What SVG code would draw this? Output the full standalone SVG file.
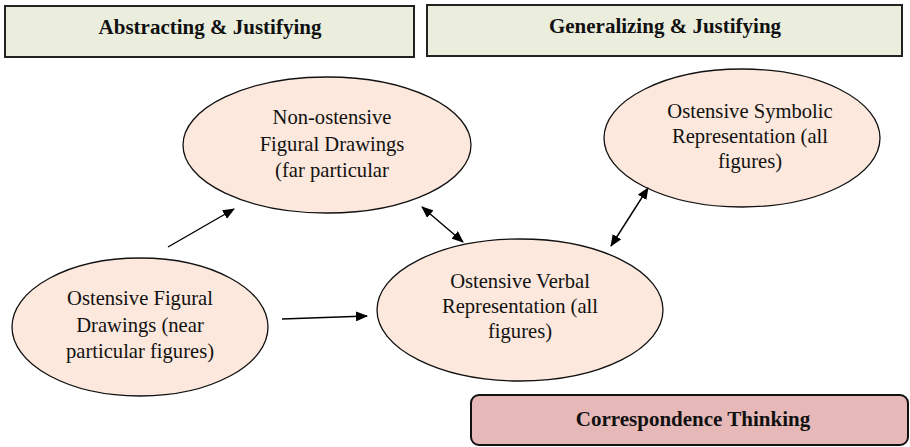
<svg xmlns="http://www.w3.org/2000/svg" width="910" height="447" viewBox="0 0 910 447">
<style>
.hdr{fill:#ebeedd;stroke:#222;stroke-width:2}
.ht{font-family:"Liberation Serif","Times New Roman",serif;font-weight:bold;font-size:21px;fill:#111;text-anchor:middle}
.el{fill:#fce8dc;stroke:#111;stroke-width:1.3}
.t{font-family:"Liberation Serif","Times New Roman",serif;font-size:20.6px;fill:#111;text-anchor:middle}
.c{stroke:#000;stroke-width:1.4;fill:none}
.ct{fill:#e6b8b8;stroke:#111;stroke-width:2}
</style>
<defs>
<marker id="ah" viewBox="0 0 12 10" refX="11" refY="5" markerWidth="12" markerHeight="10" markerUnits="userSpaceOnUse" orient="auto-start-reverse">
<path d="M0,0 L12,5 L0,10 Z" fill="#000"/>
</marker>
</defs>
<g id="abstracting">
<rect class="hdr" x="5" y="6" width="409" height="51"/>
<text class="ht" x="210" y="34">Abstracting &amp; Justifying</text>
</g>
<g id="generalizing">
<rect class="hdr" x="427" y="5" width="475" height="51"/>
<text class="ht" x="665" y="33">Generalizing &amp; Justifying</text>
</g>
<g id="nonostensive">
<ellipse class="el" cx="327" cy="145" rx="144" ry="68"/>
<text class="t" x="332" y="124">Non-ostensive</text>
<text class="t" x="332" y="151">Figural Drawings</text>
<text class="t" x="332" y="177">(far particular</text>
</g>
<g id="symbolic">
<ellipse class="el" cx="742" cy="138" rx="138" ry="69"/>
<text class="t" x="750" y="118">Ostensive Symbolic</text>
<text class="t" x="750" y="143">Representation (all</text>
<text class="t" x="750" y="168">figures)</text>
</g>
<g id="figural">
<ellipse class="el" cx="140" cy="327" rx="128" ry="69"/>
<text class="t" x="140" y="305">Ostensive Figural</text>
<text class="t" x="140" y="332">Drawings (near</text>
<text class="t" x="140" y="358">particular figures)</text>
</g>
<g id="verbal">
<ellipse class="el" cx="520" cy="310" rx="143" ry="71"/>
<text class="t" x="520" y="288">Ostensive Verbal</text>
<text class="t" x="520" y="313">Representation (all</text>
<text class="t" x="520" y="338">figures)</text>
</g>
<g id="correspondence">
<rect class="ct" x="471" y="395" width="437" height="50" rx="8"/>
<text class="ht" x="693" y="426">Correspondence Thinking</text>
</g>
<g id="connectors">
<line class="c" x1="168" y1="247" x2="234" y2="209" marker-end="url(#ah)"/>
<line class="c" x1="422" y1="207" x2="463" y2="242" marker-start="url(#ah)" marker-end="url(#ah)"/>
<line class="c" x1="648" y1="188" x2="611" y2="246" marker-start="url(#ah)" marker-end="url(#ah)"/>
<line class="c" x1="282" y1="319" x2="367" y2="316" marker-end="url(#ah)"/>
</g>
</svg>
